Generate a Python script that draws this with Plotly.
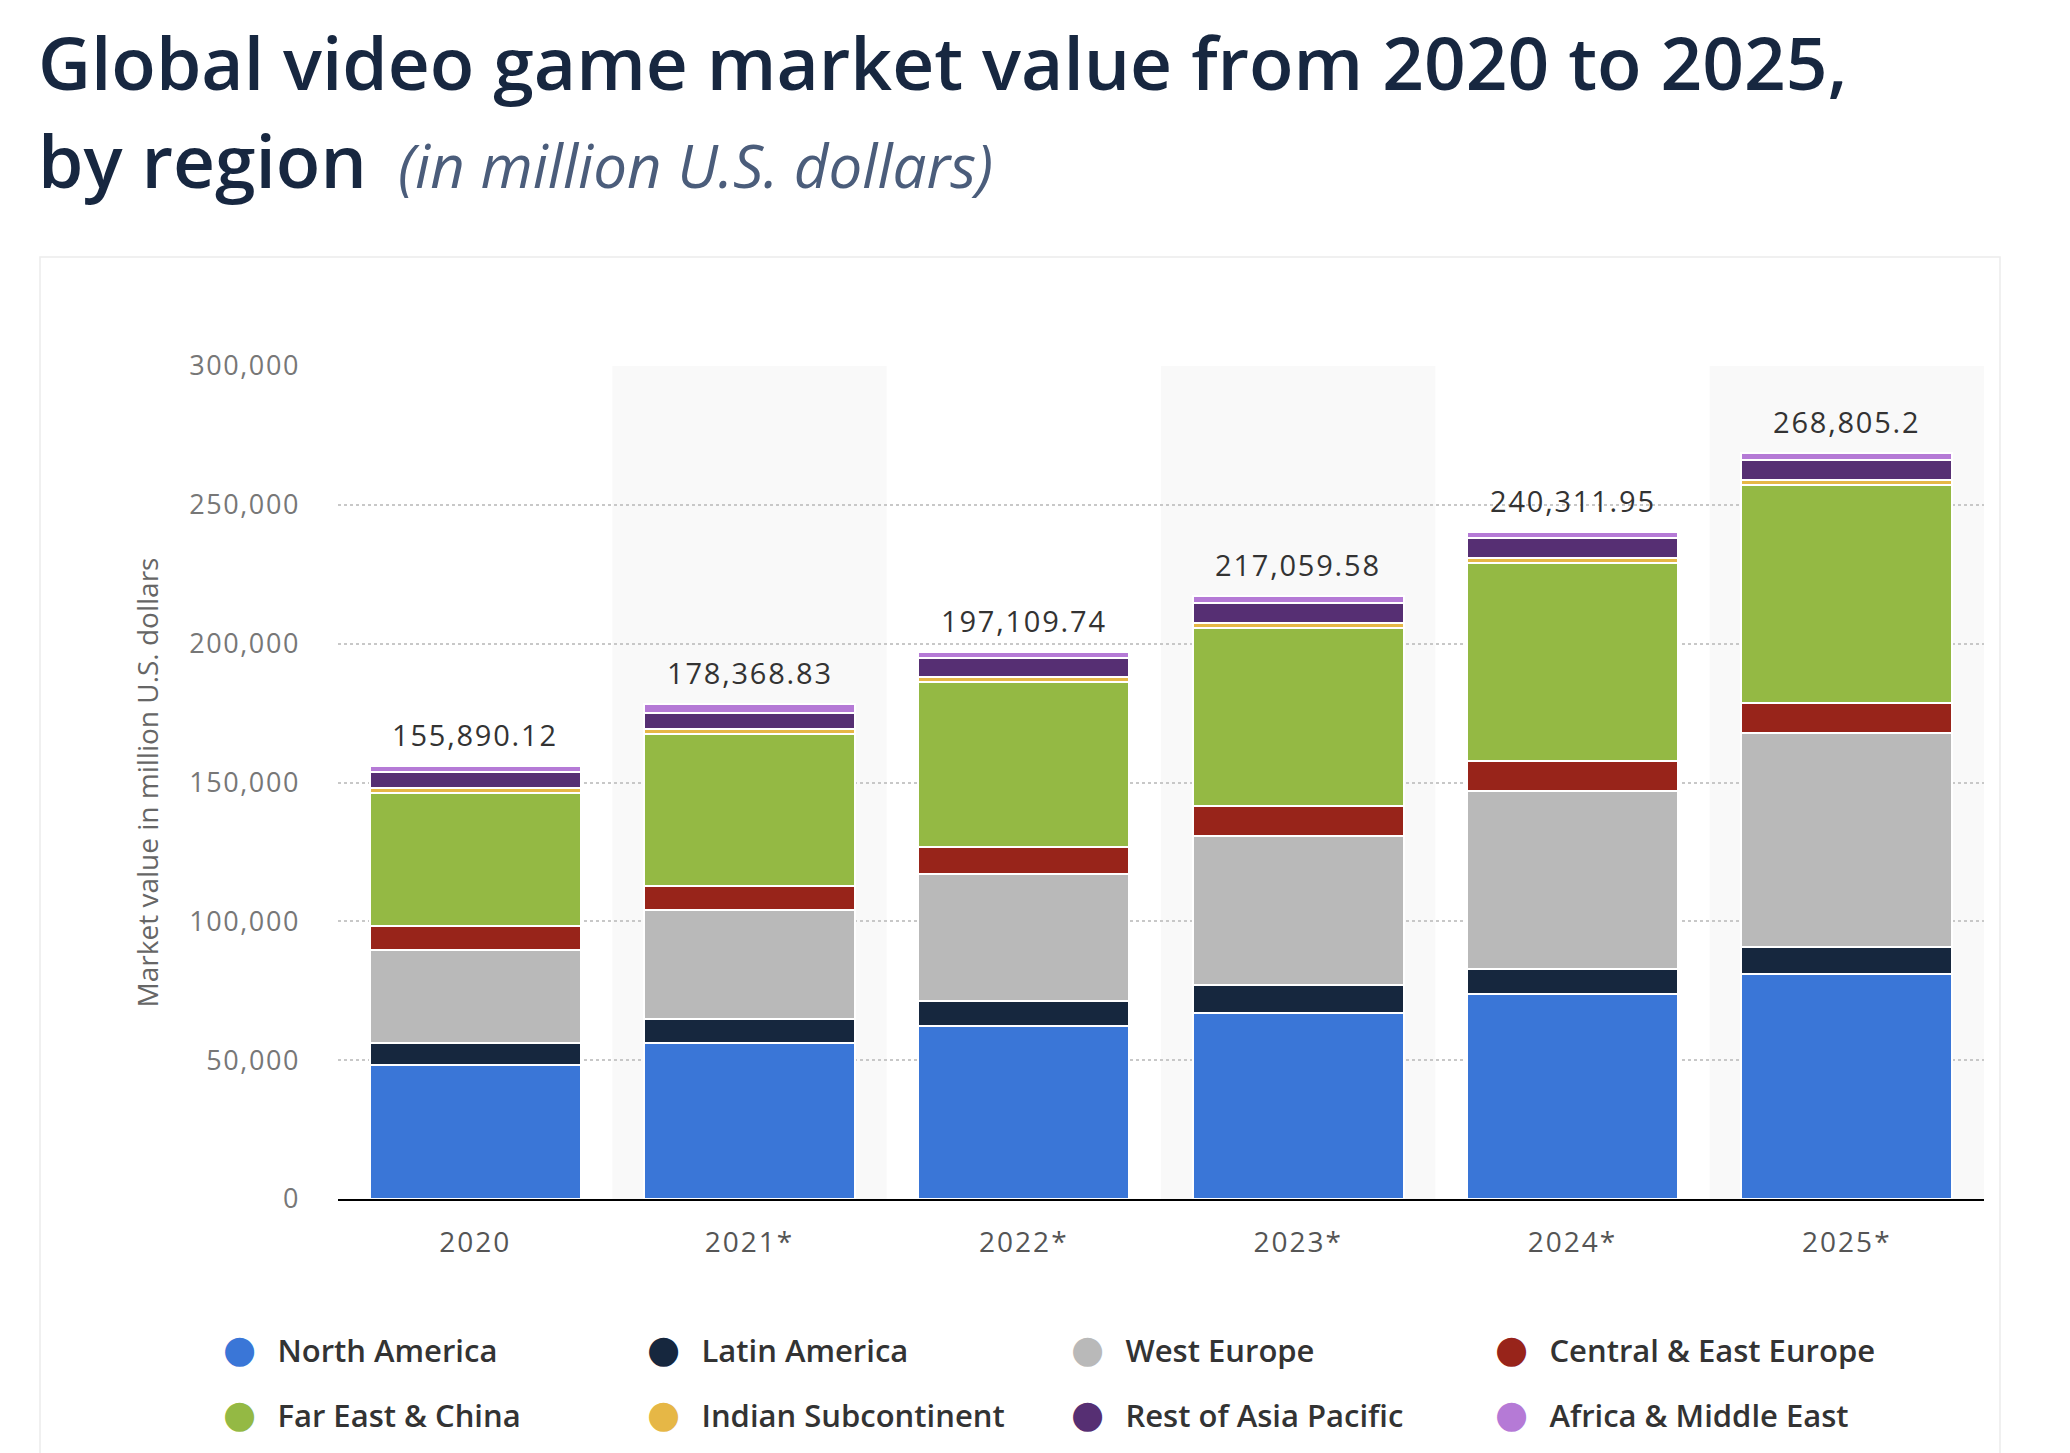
import plotly.graph_objects as go

# ---------------- data (million U.S. dollars) ----------------
years = ["2020", "2021*", "2022*", "2023*", "2024*", "2025*"]

north_america = [48400, 56300, 62200, 67000, 73800, 80900]
latin_america = [7900, 8700, 9000, 10000, 9000, 9700]
west_europe = [33200, 39000, 45800, 53600, 64300, 77200]
central_east_europe = [8800, 8800, 9600, 10800, 10800, 10700]
far_east_china = [47800, 54600, 59600, 64100, 71200, 78600]
indian_subcontinent = [1800, 1800, 1800, 2000, 1700, 2000]
rest_of_asia_pacific = [5900, 6000, 6900, 7100, 7200, 7000]
africa_middle_east = [2100, 3200, 2200, 2500, 2300, 2700]

totals = [155890.12, 178368.83, 197109.74, 217059.58, 240311.95, 268805.2]

y_ticks = [0, 50000, 100000, 150000, 200000, 250000, 300000]

series_names = ["North America", "Latin America", "West Europe", "Central & East Europe",
                "Far East & China", "Indian Subcontinent", "Rest of Asia Pacific",
                "Africa & Middle East"]
series_values = [north_america, latin_america, west_europe, central_east_europe,
                 far_east_china, indian_subcontinent, rest_of_asia_pacific, africa_middle_east]
series_colors = ["#3a76d7", "#16273e", "#b9b9b9", "#98241a",
                 "#94b944", "#e6b746", "#562f73", "#b57ad6"]

# ---------------- geometry (figure pixel coords) ----------------
W, H = 2070, 1453
L, R, T, B = 330, 94, 358, 262
PW, PH = W - L - R, H - T - B


def px_x(px):
    return (px - L) / PW


def px_y(py):
    return (H - B - py) / PH


def spaced(s, sp=1.5):
    return f"<span style='letter-spacing:{sp}px'>{s}</span>"


fig = go.Figure()

for name, vals, col in zip(series_names, series_values, series_colors):
    fig.add_trace(go.Bar(
        x=years, y=vals, name=name,
        marker=dict(color=col, line=dict(color="white", width=2)),
        showlegend=False,
        hovertemplate="%{x}<br>" + name + ": %{y:,}<extra></extra>",
    ))

# legend entries: a large round bullet in the series colour + the name
for i, (name, col) in enumerate(zip(series_names, series_colors)):
    bullet = (f"<span style='font-family:DejaVu Sans;font-size:38px;color:{col}'>\u25cf\u00a0</span>"
              "\u00a0")
    fig.add_trace(go.Scatter(
        x=[None], y=[None], mode="markers", name=bullet + name,
        marker=dict(size=2, color="rgba(0,0,0,0)"),
        legend="legend" if i < 4 else "legend2",
        hoverinfo="skip",
    ))

# total labels
annotations = []
for i, tot in enumerate(totals):
    annotations.append(dict(
        x=i, y=tot, xref="x", yref="y", text=spaced(f"{tot:,}", 1.8),
        showarrow=False, yanchor="bottom", yshift=10,
        font=dict(family="Open Sans", size=29, color="#333333"),
    ))

# title
annotations.append(dict(
    xref="paper", yref="paper", x=px_x(28), y=px_y(53), xanchor="left", yanchor="middle",
    text="Global video game market value from 2020 to 2025,", showarrow=False,
    font=dict(family="Open Sans", size=73, color="#172740", weight=600),
))
annotations.append(dict(
    xref="paper", yref="paper", x=px_x(28), y=px_y(152), xanchor="left", yanchor="middle",
    text="by region", showarrow=False,
    font=dict(family="Open Sans", size=73, color="#172740", weight=600),
))
annotations.append(dict(
    xref="paper", yref="paper", x=px_x(388), y=px_y(157), xanchor="left", yanchor="middle",
    text="<i>(in million U.S. dollars)</i>", showarrow=False,
    font=dict(family="Open Sans", size=60, color="#4b5d7b", weight=400),
))

shapes = [dict(
    type="rect", xref="paper", yref="paper",
    x0=px_x(32), x1=px_x(1992), y0=px_y(1500), y1=px_y(249),
    fillcolor="white", line=dict(color="#ececec", width=1.5), layer="below",
)]
for i in range(len(years)):
    if i % 2 == 1:
        shapes.append(dict(
            type="rect", xref="x", yref="y", x0=i - 0.5, x1=i + 0.5,
            y0=y_ticks[0], y1=y_ticks[-1], fillcolor="#f9f9f9",
            line=dict(width=0), layer="below",
        ))

legend_common = dict(
    orientation="h", xref="paper", yref="paper",
    xanchor="left", yanchor="middle", traceorder="normal",
    entrywidth=379, entrywidthmode="pixels",
    font=dict(family="Open Sans", size=31, color="#333333", weight=600),
    bgcolor="rgba(0,0,0,0)", itemsizing="trace", itemclick=False,
)

fig.update_layout(
    width=W, height=H,
    margin=dict(l=L, r=R, t=T, b=B, autoexpand=False),
    paper_bgcolor="white", plot_bgcolor="rgba(0,0,0,0)",
    barmode="stack", bargap=0.23,
    font=dict(family="Open Sans"),
    annotations=annotations, shapes=shapes,
    legend=dict(x=px_x(175), y=px_y(1342), **legend_common),
    legend2=dict(x=px_x(175), y=px_y(1407), **legend_common),
    xaxis=dict(
        type="category", categoryorder="array", categoryarray=years,
        tickvals=years, ticktext=[spaced(y, 2) for y in years],
        showline=True, linecolor="#000000", linewidth=2,
        showgrid=False, ticks="", ticklabelstandoff=17,
        tickfont=dict(family="Open Sans", size=28, color="#555555"),
        range=[-0.5, len(years) - 0.5],
    ),
    yaxis=dict(
        range=[y_ticks[0], y_ticks[-1]], tickvals=y_ticks,
        ticktext=[spaced(f"{v:,}", 1.6) for v in y_ticks],
        showgrid=True, gridcolor="#c8c8c8", griddash="dot", gridwidth=1.5,
        zeroline=False, showline=False, ticks="", ticklabelstandoff=37,
        tickfont=dict(family="Open Sans", size=27, color="#777777"),
        title=dict(text="Market value in million U.S. dollars", standoff=22,
                   font=dict(family="Open Sans", size=28, color="#666666")),
    ),
)

fig.write_html("out.html")
